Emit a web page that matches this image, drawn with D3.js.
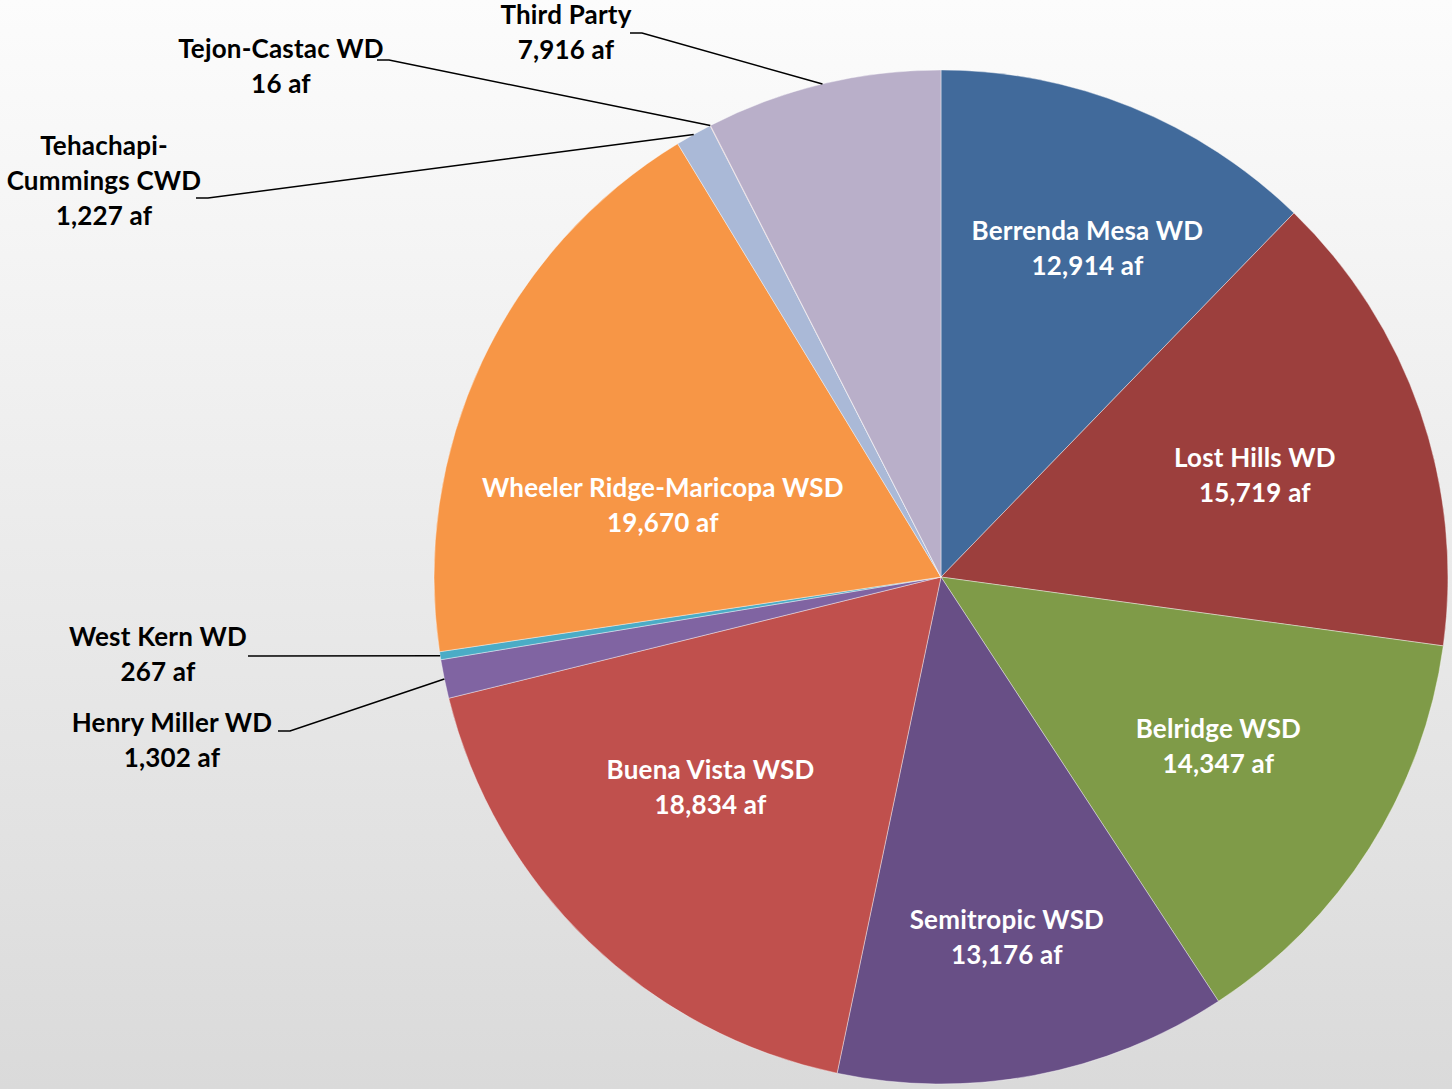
<!DOCTYPE html>
<html>
<head>
<meta charset="utf-8">
<script src="https://cdn.jsdelivr.net/npm/d3@7"></script>
<style>
  html, body { margin: 0; padding: 0; }
  svg { display: block; }
  .lbl { font-family: Lato, "Open Sans", sans-serif; font-weight: bold; font-size: 26px; letter-spacing: 0.2px; }
</style>
</head>
<body>
<div id="chart"></div>
<script>
  // slices, clockwise from 12 o'clock
  var districts = ["Berrenda Mesa WD", "Lost Hills WD", "Belridge WSD", "Semitropic WSD",
    "Buena Vista WSD", "Henry Miller WD", "West Kern WD", "Wheeler Ridge-Maricopa WSD",
    "Tehachapi-Cummings CWD", "Tejon-Castac WD", "Third Party"];
  var acreFeet = [12914, 15719, 14347, 13176, 18834, 1302, 267, 19670, 1227, 16, 7916];
  var sliceColors = ["#416a9b", "#9c3f3d", "#7f9b48", "#684f86", "#c0504d", "#8064a2",
    "#4bacc6", "#f79646", "#aab9d7", "#d99694", "#b9afc9"];

  // label placement (inside: nudge from centroid, outside: manual spot + leader start)
  var inside = {
    "Berrenda Mesa WD": [17, -9],
    "Lost Hills WD": [-12, 11],
    "Belridge WSD": [-14, -15],
    "Semitropic WSD": [2, 22],
    "Buena Vista WSD": [9, -38],
    "Wheeler Ridge-Maricopa WSD": [34, 75]
  };
  var outside = {
    "Third Party": { x: 566, y: 15, lead: [630, 33] },
    "Tejon-Castac WD": { x: 281, y: 49, lead: [377, 60] },
    "Tehachapi-Cummings CWD": { x: 104, y: 146, lead: [196, 198], wrap: true },
    "West Kern WD": { x: 158, y: 637, lead: [248, 656] },
    "Henry Miller WD": { x: 172, y: 723, lead: [278, 731] }
  };

  var width = 1452, height = 1089,
      cx = 941, cy = 577, radius = 507,
      lineH = 35;

  var svg = d3.select("#chart").append("svg")
      .attr("width", width)
      .attr("height", height);

  var grad = svg.append("defs").append("linearGradient")
      .attr("id", "bg")
      .attr("x1", 0).attr("y1", 0).attr("x2", 0).attr("y2", 1);
  grad.append("stop").attr("offset", "0%").attr("stop-color", "#fcfcfc");
  grad.append("stop").attr("offset", "100%").attr("stop-color", "#dadada");

  svg.append("rect")
      .attr("width", width)
      .attr("height", height)
      .attr("fill", "url(#bg)");

  var data = districts.map((d, i) => ({ name: d, value: acreFeet[i], color: sliceColors[i] }));

  var pie = d3.pie()
      .value(d => d.value)
      .sort(null);

  var arc = d3.arc()
      .innerRadius(0)
      .outerRadius(radius);

  var labelArc = d3.arc()
      .innerRadius(radius * 0.68)
      .outerRadius(radius * 0.68);

  var arcs = pie(data);
  var fmt = d3.format(",");

  var g = svg.append("g")
      .attr("transform", "translate(" + cx + "," + cy + ")");

  g.selectAll("path")
      .data(arcs)
    .enter().append("path")
      .attr("d", arc)
      .attr("fill", d => d.data.color)
      .attr("stroke", "#ffffff")
      .attr("stroke-opacity", 0.5)
      .attr("stroke-width", 0.8);

  // inside labels
  arcs.filter(d => inside[d.data.name]).forEach(function(d) {
    var c = labelArc.centroid(d), n = inside[d.data.name];
    var t = g.append("text")
        .attr("class", "lbl")
        .attr("fill", "#ffffff")
        .attr("text-anchor", "middle");
    [d.data.name, fmt(d.data.value) + " af"].forEach(function(s, i) {
      t.append("tspan")
          .attr("x", c[0] + n[0])
          .attr("y", c[1] + n[1] + (i - 0.5) * lineH)
          .attr("dy", "0.35em")
          .text(s);
    });
  });

  // outside labels with leader lines
  arcs.filter(d => outside[d.data.name]).forEach(function(d) {
    var o = outside[d.data.name];
    var a = (d.startAngle + d.endAngle) / 2;
    var ex = cx + radius * Math.sin(a), ey = cy - radius * Math.cos(a);

    svg.append("polyline")
        .attr("points", [o.lead, [o.lead[0] + 12, o.lead[1]], [ex, ey]].map(p => p.join(",")).join(" "))
        .attr("fill", "none")
        .attr("stroke", "#000000")
        .attr("stroke-width", 1.5);

    var lines = o.wrap ? d.data.name.replace("-", "-\n").split("\n") : [d.data.name];
    lines.push(fmt(d.data.value) + " af");

    var t = svg.append("text")
        .attr("class", "lbl")
        .attr("fill", "#000000")
        .attr("text-anchor", "middle");
    lines.forEach(function(s, i) {
      t.append("tspan")
          .attr("x", o.x)
          .attr("y", o.y + i * lineH)
          .attr("dy", "0.35em")
          .text(s);
    });
  });
</script>
</body>
</html>
